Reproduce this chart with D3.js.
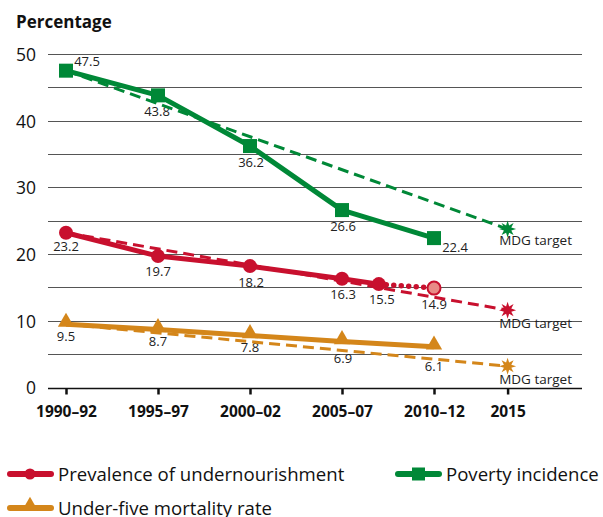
<!DOCTYPE html>
<html><head><meta charset="utf-8">
<script src="https://cdn.jsdelivr.net/npm/d3@7"></script>
<style>
html,body{margin:0;padding:0;background:#fff;}
svg{display:block;font-family:"Open Sans",sans-serif;}
</style></head>
<body><svg id="c" width="603" height="517"></svg>
<script>
// ---- data ----
const tickYears = [1991, 1996, 2001, 2006, 2011, 2015];
const tickLabels = ["1990–92", "1995–97", "2000–02", "2005–07", "2010–12", "2015"];
const yTicks = [0, 10, 20, 30, 40, 50];

const povertyYears = [1991, 1996, 2001, 2006, 2011];
const povertyValues = [47.5, 43.8, 36.2, 26.6, 22.4];
const povertyTarget = 23.75;

const underYears = [1991, 1996, 2001, 2006, 2008];
const underValues = [23.2, 19.7, 18.2, 16.3, 15.5];
const underProjYears = [2008, 2011];
const underProjValues = [15.5, 14.9];
const underTarget = 11.6;

const mortYears = [1991, 1996, 2001, 2006, 2011];
const mortValues = [9.5, 8.7, 7.8, 6.9, 6.1];
const mortTarget = 3.2;

const targetYear = 2015;
const targetLabel = "MDG target";
const legendNames = ["Prevalence of undernourishment", "Poverty incidence", "Under-five mortality rate"];

// ---- styles ----
const RED = "#c8102e", GREEN = "#008837", ORANGE = "#d4861a", PINK = "#e88a86";
const svg = d3.select("#c");
const x = d3.scaleLinear().domain([1991, 2015]).range([66, 507.6]);
const y = d3.scaleLinear().domain([0, 50]).range([387.5, 54]);

// grid
const gridVals = d3.range(5, 51, 5);
svg.append("g").selectAll("line").data(gridVals).join("line")
  .attr("x1", 48).attr("x2", 582)
  .attr("y1", d => Math.round(y(d)) + 0.5).attr("y2", d => Math.round(y(d)) + 0.5)
  .attr("stroke", "#555").attr("stroke-width", 1);

// x axis
const xAxis = d3.axisBottom(x).tickValues(tickYears).tickFormat((d, i) => tickLabels[i]).tickSize(6).tickPadding(8);
const gx = svg.append("g").attr("transform", `translate(0,${Math.round(y(0)) + 0.5})`).call(xAxis);
gx.select(".domain").attr("d", "M48,0H582").attr("stroke", "#111").attr("stroke-width", 1.3);
gx.selectAll(".tick line").attr("stroke", "#111").attr("stroke-width", 2.5);
gx.selectAll(".tick text").attr("fill", "#111").attr("font-size", 15.5).attr("font-weight", "bold")
  .attr("font-family", "'Open Sans',sans-serif").attr("dy", "0.95em");

// y axis labels
const yAxis = d3.axisLeft(y).tickValues(yTicks).tickSize(0).tickPadding(0);
const gy = svg.append("g").attr("transform", "translate(36,0)").call(yAxis);
gy.select(".domain").remove();
gy.selectAll(".tick text").attr("fill", "#111").attr("font-size", 17.5).attr("font-family", "'Open Sans',sans-serif").attr("dy", "0.36em");

svg.append("text").attr("x", 16).attr("y", 28).text("Percentage")
  .attr("font-size", 17).attr("font-weight", "bold").attr("fill", "#111");

// value labels (drawn under lines)
function labels(years, vals, offs) {
  svg.append("g").selectAll("text").data(vals).join("text")
    .attr("x", (d, i) => x(years[i]) + (offs[i] ? offs[i][0] : 0))
    .attr("y", (d, i) => y(d) + (offs[i] ? offs[i][1] : 20))
    .attr("text-anchor", "middle").attr("font-size", 13).attr("fill", "#222")
    .text(d => d.toFixed(1));
}
labels(povertyYears, povertyValues, [[21, -5], [-1, 21], [1, 21], [1, 21], [21, 14]]);
labels(underYears, underValues, [[0, 18], [0, 20], [1, 21], [1, 20], [3, 20]]);
labels([underProjYears[1]], [underProjValues[1]], [[0, 21]]);
labels(mortYears, mortValues, [[0, 17], [0, 17], [0, 17], [1, 22], [0, 24]]);

// target labels
[[povertyTarget, 16], [underTarget, 18], [mortTarget, 18]].forEach(([v, dy]) => {
  svg.append("text").attr("x", x(targetYear) + 28).attr("y", y(v) + dy)
    .attr("text-anchor", "middle").attr("font-size", 13.5).attr("fill", "#222").text(targetLabel);
});

const line = d3.line().x(d => x(d[0])).y(d => y(d[1]));

function star(cx, cy, R, r, n) {
  const pts = [];
  for (let i = 0; i < 2 * n; i++) {
    const a = Math.PI * i / n - Math.PI / 2;
    const rad = i % 2 ? r : R;
    pts.push([cx + rad * Math.cos(a), cy + rad * Math.sin(a)]);
  }
  return "M" + pts.map(p => p.join(",")).join("L") + "Z";
}

function targetLine(startYear, startVal, tgt, color) {
  svg.append("path").attr("d", line([[startYear, startVal], [targetYear, tgt]]))
    .attr("fill", "none").attr("stroke", color).attr("stroke-width", 3).attr("stroke-dasharray", "11,6");
  svg.append("path").attr("d", star(x(targetYear), y(tgt), 8.5, 4, 8)).attr("fill", color);
}

// dashed target lines
targetLine(povertyYears[0], povertyValues[0], povertyTarget, GREEN);
targetLine(underYears[0], underValues[0], underTarget, RED);
targetLine(mortYears[0], mortValues[0], mortTarget, ORANGE);

// poverty
svg.append("path").attr("d", line(povertyYears.map((d, i) => [d, povertyValues[i]])))
  .attr("fill", "none").attr("stroke", GREEN).attr("stroke-width", 5).attr("stroke-linejoin", "round");
svg.append("g").selectAll("rect").data(povertyValues).join("rect")
  .attr("x", (d, i) => x(povertyYears[i]) - 7).attr("y", d => y(d) - 7)
  .attr("width", 14).attr("height", 14).attr("fill", GREEN);

// undernourishment
svg.append("path").attr("d", line(underProjYears.map((d, i) => [d, underProjValues[i]])))
  .attr("fill", "none").attr("stroke", RED).attr("stroke-width", 5.5).attr("stroke-linecap", "round").attr("stroke-dasharray", "0,7.5");
svg.append("path").attr("d", line(underYears.map((d, i) => [d, underValues[i]])))
  .attr("fill", "none").attr("stroke", RED).attr("stroke-width", 5).attr("stroke-linejoin", "round");
svg.append("g").selectAll("circle").data(underValues).join("circle")
  .attr("cx", (d, i) => x(underYears[i])).attr("cy", d => y(d)).attr("r", 7).attr("fill", RED);
svg.append("circle").attr("cx", x(underProjYears[1])).attr("cy", y(underProjValues[1])).attr("r", 6.5)
  .attr("fill", PINK).attr("stroke", RED).attr("stroke-width", 2);

// mortality
svg.append("path").attr("d", line(mortYears.map((d, i) => [d, mortValues[i]])))
  .attr("fill", "none").attr("stroke", ORANGE).attr("stroke-width", 5).attr("stroke-linejoin", "round");
const tri = d3.symbol().type(d3.symbolTriangle).size(115);
svg.append("g").selectAll("path").data(mortValues).join("path")
  .attr("transform", (d, i) => `translate(${x(mortYears[i])},${y(d) - 2})`).attr("d", tri()).attr("fill", ORANGE);

// legend
const legend = [
  {name: legendNames[0], color: RED, type: "circle", lx: 8, ly: 474},
  {name: legendNames[1], color: GREEN, type: "square", lx: 396, ly: 474},
  {name: legendNames[2], color: ORANGE, type: "tri", lx: 8, ly: 508}
];
legend.forEach(l => {
  const g = svg.append("g").attr("transform", `translate(${l.lx},${l.ly})`);
  g.append("line").attr("x1", 2).attr("x2", 43).attr("stroke", l.color).attr("stroke-width", 6).attr("stroke-linecap", "round");
  if (l.type === "circle") g.append("circle").attr("cx", 22).attr("r", 5.5).attr("fill", l.color);
  if (l.type === "square") g.append("rect").attr("x", 16).attr("y", -6.5).attr("width", 13).attr("height", 13).attr("fill", l.color);
  if (l.type === "tri") g.append("path").attr("transform", "translate(22,-2)").attr("d", d3.symbol().type(d3.symbolTriangle).size(110)()).attr("fill", l.color);
  g.append("text").attr("x", 50).attr("y", 0).attr("dy", "0.35em").attr("font-size", 18.6).attr("fill", "#111").text(l.name);
});
</script></body></html>
